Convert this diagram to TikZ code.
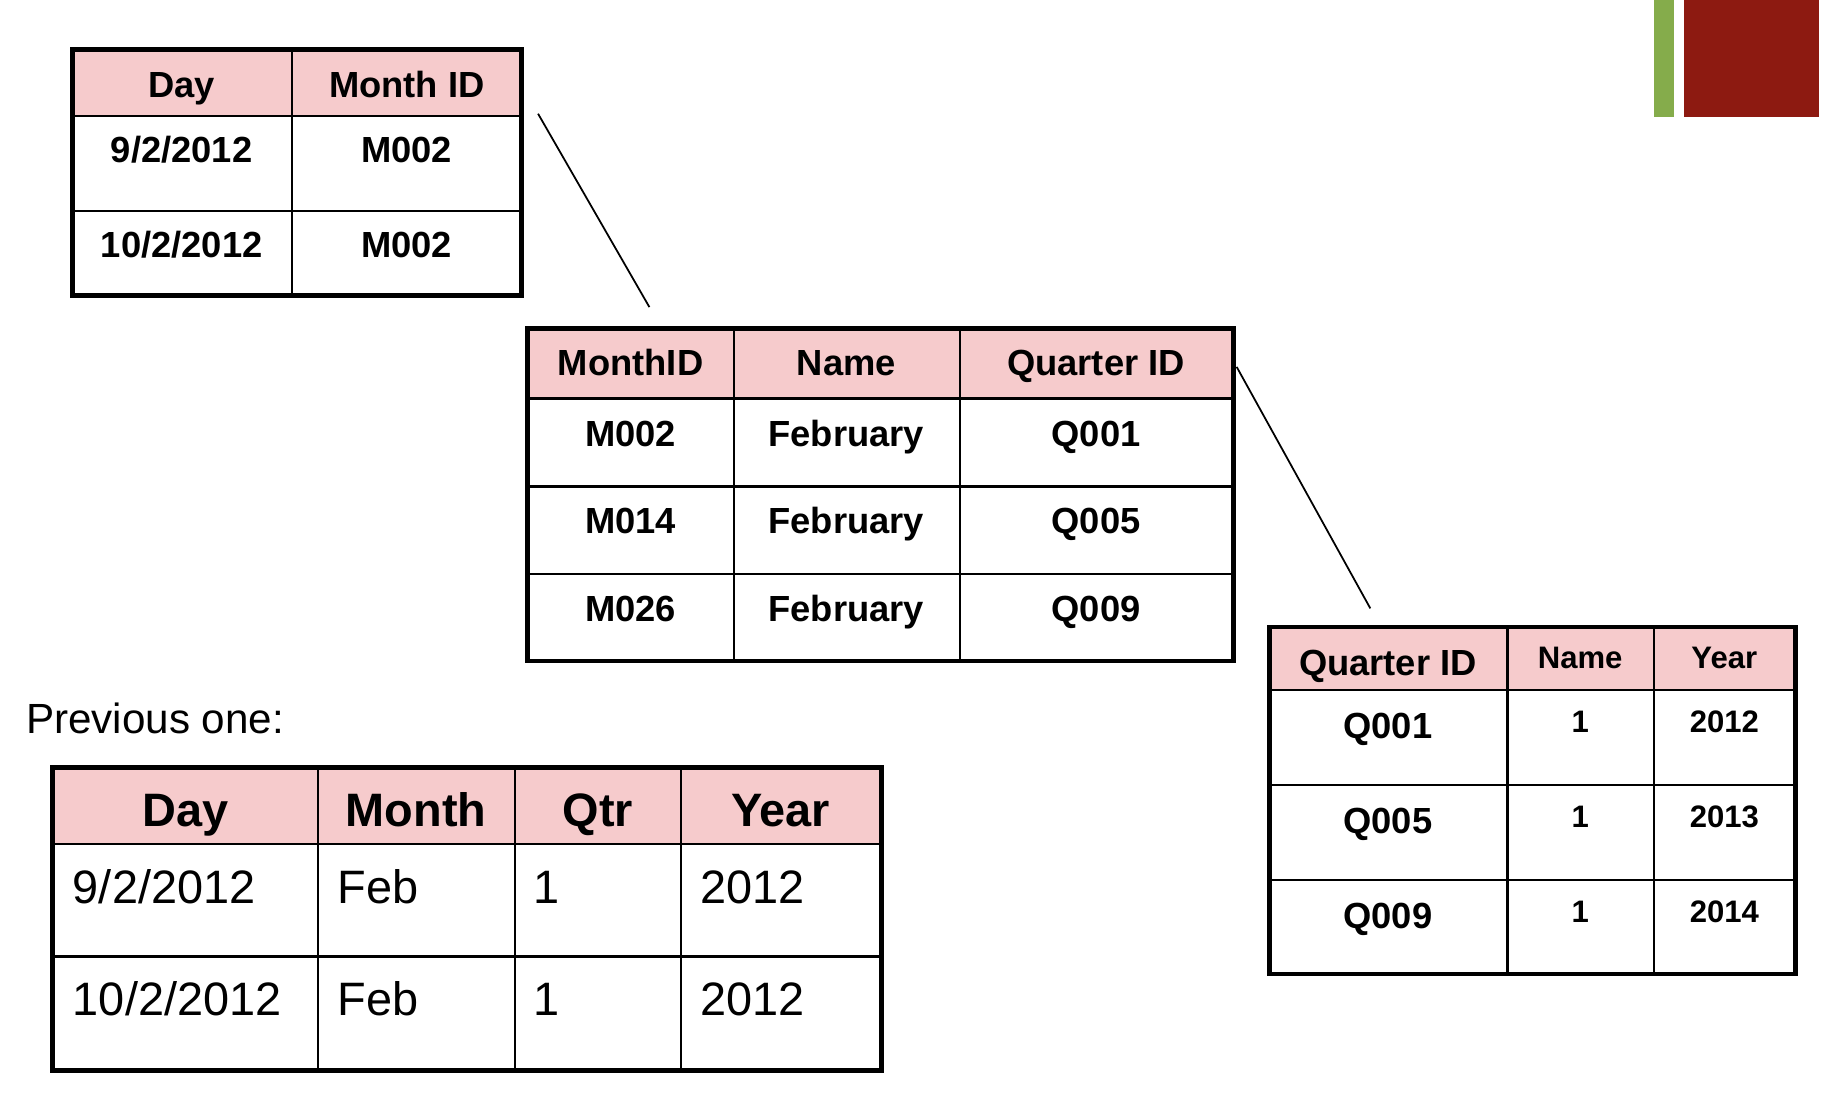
\documentclass[tikz,border=0pt]{standalone}
\usepackage{fontspec}
\setmainfont{Liberation Sans}
\definecolor{hdrpink}{HTML}{F6CBCC}
\definecolor{barGreen}{HTML}{85AC4B}
\definecolor{barRed}{HTML}{8D1A11}
\newcommand{\fsz}[1]{\fontsize{#1}{#1}\selectfont}
\tikzset{
  outer/.style={line width=4pt},
  inner/.style={line width=1.8pt},
  conn/.style={line width=1.5pt},
  txt/.style={anchor=base, inner sep=0pt},
  b31/.style={txt, font=\bfseries\fsz{31}},
  b26/.style={txt, font=\bfseries\fsz{26.5}},
  b40/.style={txt, font=\bfseries\fsz{40}},
  r40/.style={txt, anchor=base west, font=\fsz{40}},
}
\begin{document}
\begin{tikzpicture}[x=1pt,y=-1pt]
\useasboundingbox (0,0) rectangle (1568,943.6);
% decoration bars
\fill[barGreen] (1411,0) rectangle (1428,99.5);
\fill[barRed] (1437,0) rectangle (1552,99.5);

% ---------- Table 1 ----------
\fill[hdrpink] (62,42) rectangle (445,99);
\draw[inner] (62,99) -- (445,99) (62,180) -- (445,180) (249,42) -- (249,252);
\draw[outer] (62,42) rectangle (445,252);
\node[b31] (t1h1) at (155,83) {Day};
\node[b31] (t1h2) at (347,83) {Month ID};
\node[b31] (t1a1) at (155,139) {9/2/2012};
\node[b31] (t1a2) at (347,139) {M002};
\node[b31] (t1b1) at (155,220) {10/2/2012};
\node[b31] (t1b2) at (347,220) {M002};

% ---------- Table 2 ----------
\fill[hdrpink] (450,280) rectangle (1052,340);
\draw[inner] (450,340) -- (1052,340) (450,415) -- (1052,415) (450,490) -- (1052,490)
  (626,280) -- (626,564) (819,280) -- (819,564);
\draw[outer] (450,280) rectangle (1052,564);
\node[b31] (t2h1) at (538,320) {MonthID};
\node[b31] (t2h2) at (722,320) {Name};
\node[b31] (t2h3) at (935,320) {Quarter ID};
\node[b31] (t2a1) at (538,381) {M002};
\node[b31] (t2a2) at (722,381) {February};
\node[b31] (t2a3) at (935,381) {Q001};
\node[b31] (t2b1) at (538,455) {M014};
\node[b31] (t2b2) at (722,455) {February};
\node[b31] (t2b3) at (935,455) {Q005};
\node[b31] (t2c1) at (538,530) {M026};
\node[b31] (t2c2) at (722,530) {February};
\node[b31] (t2c3) at (935,530) {Q009};

% ---------- Table 3 ----------
\fill[hdrpink] (1083,535) rectangle (1532,589);
\draw[inner] (1083,589) -- (1532,589) (1083,670) -- (1532,670) (1083,751) -- (1532,751)
  (1286,535) -- (1286,831) (1411,535) -- (1411,831);
\draw[outer] (1083,535) rectangle (1532,831);
\node[b31] (t3h1) at (1184,576) {Quarter ID};
\node[b26] (t3h2) at (1348,570.5) {Name};
\node[b26] (t3h3) at (1471,570.5) {Year};
\node[b31] (t3a1) at (1184,630) {Q001};
\node[b26] (t3a2) at (1348,625) {1};
\node[b26] (t3a3) at (1471,625) {2012};
\node[b31] (t3b1) at (1184,711) {Q005};
\node[b26] (t3b2) at (1348,706) {1};
\node[b26] (t3b3) at (1471,706) {2013};
\node[b31] (t3c1) at (1184,792) {Q009};
\node[b26] (t3c2) at (1348,787) {1};
\node[b26] (t3c3) at (1471,787) {2014};

% ---------- connectors ----------
\coordinate (c1s) at (459,97);
\coordinate (c1e) at (554,262);
\coordinate (c2s) at (1055,313);
\coordinate (c2e) at (1169,519);
\draw[conn] (c1s) -- (c1e);
\draw[conn] (c2s) -- (c2e);

% ---------- Previous one ----------
\node[txt, anchor=base west, font=\fsz{36}] (prev) at (22,626) {Previous one:};
\fill[hdrpink] (45,655) rectangle (752,720);
\draw[inner] (45,720) -- (752,720) (45,816) -- (752,816)
  (271,655) -- (271,913) (439,655) -- (439,913) (581,655) -- (581,913);
\draw[outer] (45,655) rectangle (752,913);
\node[b40] (t4h1) at (158,705) {Day};
\node[b40] (t4h2) at (355,705) {Month};
\node[b40] (t4h3) at (510,705) {Qtr};
\node[b40] (t4h4) at (666,705) {Year};
\node[r40] (t4a1) at (62,771) {9/2/2012};
\node[r40] (t4a2) at (288,771) {Feb};
\node[r40] (t4a3) at (455,771) {1};
\node[r40] (t4a4) at (597,771) {2012};
\node[r40] (t4b1) at (62,866) {10/2/2012};
\node[r40] (t4b2) at (288,866) {Feb};
\node[r40] (t4b3) at (455,866) {1};
\node[r40] (t4b4) at (597,866) {2012};
\end{tikzpicture}
\end{document}
